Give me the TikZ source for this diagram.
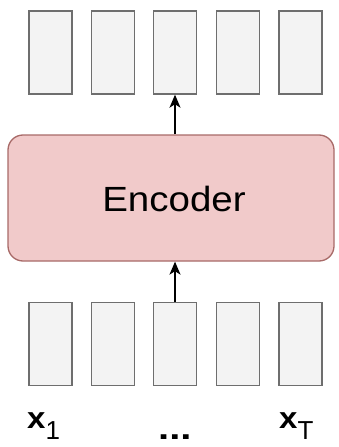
\documentclass[tikz,border=0pt]{standalone}
\usepackage{fontspec}
\setmainfont{Liberation Sans}
\usetikzlibrary{arrows.meta}
\definecolor{cellfill}{HTML}{F3F3F3}
\definecolor{cellline}{HTML}{6E6E6E}
\definecolor{encfill}{HTML}{F1CACA}
\definecolor{encline}{HTML}{A86A68}
\tikzset{
  cell/.style={draw=cellline, fill=cellfill, line width=1.4pt,
    minimum width=43pt, minimum height=83pt, inner sep=0pt},
  encoder/.style={draw=encline, fill=encfill, line width=1.3pt,
    rounded corners=15pt, minimum width=326pt, minimum height=126pt, inner sep=0pt},
  flow/.style={line width=1.3pt, -{Stealth[length=13pt,width=11pt,inset=3.5pt]}},
  lbl/.style={inner sep=0pt, font=\fontsize{30}{30}\selectfont}
}
\newcommand{\subtext}[1]{\raisebox{-11pt}{\fontsize{26}{26}\selectfont #1}}
\begin{document}
\begin{tikzpicture}[x=1pt, y=-1pt]
  \useasboundingbox (0,0) rectangle (338,447);
  % output states
  \node[cell] (o1) at (50.5,52.5) {};
  \node[cell] (o2) at (113,52.5) {};
  \node[cell] (o3) at (175,52.5) {};
  \node[cell] (o4) at (238,52.5) {};
  \node[cell] (o5) at (300.5,52.5) {};
  % encoder block
  \node[encoder] (enc) at (171,198) {};
  \node[inner sep=0pt, anchor=base, font=\fontsize{35}{35}\selectfont] (enctext) at (174,211)
    {\scalebox{1.1}[1]{Encoder}};
  % input vectors
  \node[cell] (i1) at (50.5,344) {};
  \node[cell] (i2) at (113,344) {};
  \node[cell] (i3) at (175,344) {};
  \node[cell] (i4) at (238,344) {};
  \node[cell] (i5) at (300.5,344) {};
  % connectors
  \draw[flow] (enc.north -| o3) -- (o3.south);
  \draw[flow] (i3.north) -- (enc.south -| i3);
  % labels
  \node[lbl, anchor=base west] (x1) at (27,428)
    {\scalebox{1.1}[1]{\bfseries x}\subtext{1}};
  \node[lbl, anchor=base west] (dots) at (158,439)
    {\fontsize{32}{32}\selectfont\bfseries\scalebox{1.25}[1]{...}};
  \node[lbl, anchor=base west] (xT) at (279,428)
    {\scalebox{1.1}[1]{\bfseries x}\subtext{T}};
\end{tikzpicture}
\end{document}
